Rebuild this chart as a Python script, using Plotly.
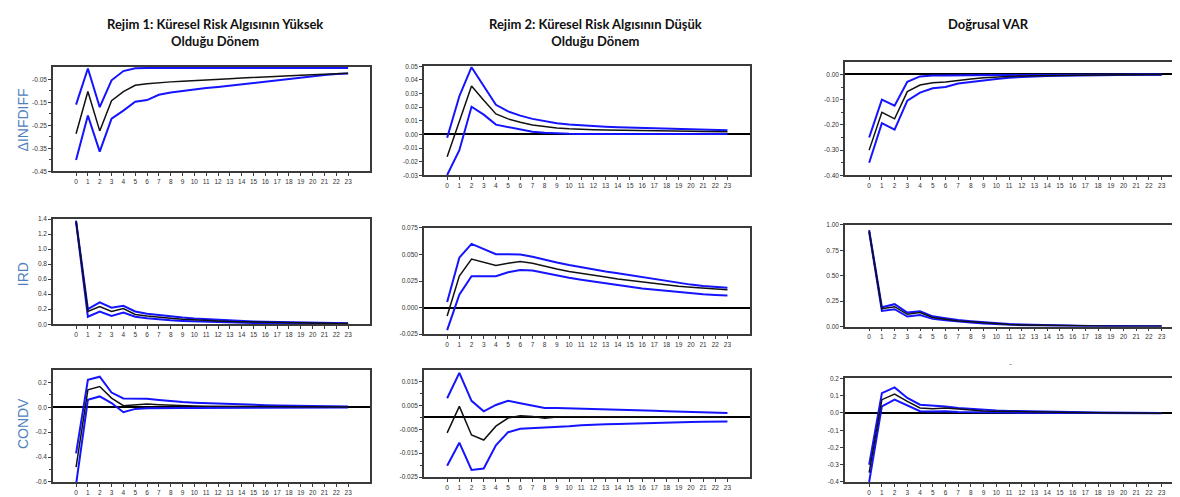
import plotly.graph_objects as go

W, H = 1180, 497

horizon = list(range(24))
horizon_labels = [str(h) for h in horizon]

col_titles = ["Rejim 1: Küresel Risk Algısının Yüksek<br>Olduğu Dönem",
              "Rejim 2: Küresel Risk Algısının Düşük<br>Olduğu Dönem",
              "Doğrusal VAR"]
row_titles = ["ΔINFDIFF", "IRD", "CONDV"]

# ---- Row 1: ΔINFDIFF ----
r1_infdiff_mid = [-0.286, -0.103, -0.274, -0.143, -0.103, -0.076, -0.069, -0.064, -0.061, -0.058, -0.056, -0.053,
                  -0.050, -0.047, -0.044, -0.041, -0.039, -0.037, -0.034, -0.032, -0.030, -0.028, -0.026, -0.024]
r1_infdiff_up = [-0.160, -0.003, -0.171, -0.054, -0.014, -0.002, -0.001, -0.001, -0.001, -0.001, -0.001, -0.001,
                 -0.001, -0.001, -0.001, -0.001, -0.001, -0.001, -0.001, -0.001, -0.001, -0.001, -0.001, -0.001]
r1_infdiff_lo = [-0.400, -0.207, -0.364, -0.221, -0.186, -0.147, -0.140, -0.117, -0.107, -0.100, -0.094, -0.088,
                 -0.083, -0.077, -0.071, -0.065, -0.058, -0.052, -0.046, -0.040, -0.035, -0.031, -0.027, -0.025]

r2_infdiff_mid = [-0.0164, 0.0101, 0.0355, 0.0250, 0.0150, 0.0114, 0.0089, 0.0070, 0.0058, 0.0048, 0.0041, 0.0036,
                  0.0034, 0.0032, 0.0030, 0.0029, 0.0027, 0.0026, 0.0025, 0.0024, 0.0023, 0.0022, 0.0021, 0.0020]
r2_infdiff_up = [-0.0024, 0.0280, 0.0493, 0.0355, 0.0217, 0.0169, 0.0138, 0.0114, 0.0097, 0.0082, 0.0072, 0.0065,
                 0.0060, 0.0056, 0.0052, 0.0049, 0.0046, 0.0043, 0.0040, 0.0038, 0.0035, 0.0033, 0.0031, 0.0030]
r2_infdiff_lo = [-0.0297, -0.0116, 0.0203, 0.0145, 0.0072, 0.0053, 0.0034, 0.0019, 0.0012, 0.0007, 0.0005, 0.0004,
                 0.0004, 0.0004, 0.0004, 0.0004, 0.0003, 0.0003, 0.0003, 0.0003, 0.0003, 0.0003, 0.0003, 0.0003]

lin_infdiff_mid = [-0.300, -0.150, -0.176, -0.068, -0.042, -0.033, -0.030, -0.023, -0.018, -0.013, -0.010, -0.008,
                   -0.006, -0.005, -0.004, -0.003, -0.003, -0.002, -0.002, -0.001, -0.001, -0.001, -0.001, 0.000]
lin_infdiff_up = [-0.250, -0.100, -0.124, -0.029, -0.008, -0.004, -0.004, -0.003, -0.003, -0.002, -0.002, -0.002,
                  -0.002, -0.001, -0.001, -0.001, -0.001, -0.001, -0.001, 0.000, 0.000, 0.000, 0.000, 0.000]
lin_infdiff_lo = [-0.350, -0.193, -0.219, -0.104, -0.072, -0.055, -0.050, -0.036, -0.030, -0.023, -0.018, -0.013,
                  -0.010, -0.008, -0.006, -0.005, -0.004, -0.003, -0.003, -0.002, -0.002, -0.001, -0.001, -0.001]

# ---- Row 2: IRD ----
r1_ird_mid = [1.37, 0.17, 0.235, 0.17, 0.21, 0.13, 0.11, 0.09, 0.08, 0.067, 0.058, 0.050,
              0.043, 0.037, 0.032, 0.028, 0.024, 0.021, 0.018, 0.016, 0.014, 0.012, 0.011, 0.010]
r1_ird_up = [1.38, 0.20, 0.29, 0.22, 0.245, 0.17, 0.14, 0.12, 0.105, 0.090, 0.078, 0.068,
             0.058, 0.050, 0.044, 0.038, 0.033, 0.029, 0.025, 0.022, 0.019, 0.017, 0.015, 0.013]
r1_ird_lo = [1.36, 0.10, 0.17, 0.11, 0.155, 0.10, 0.08, 0.062, 0.052, 0.044, 0.038, 0.032,
             0.027, 0.023, 0.020, 0.017, 0.014, 0.012, 0.010, 0.009, 0.008, 0.007, 0.006, 0.005]

r2_ird_mid = [-0.0080, 0.0296, 0.0457, 0.0427, 0.0396, 0.0418, 0.0433, 0.0418, 0.0387, 0.0363, 0.0340, 0.0320,
              0.0305, 0.0287, 0.0270, 0.0256, 0.0240, 0.0226, 0.0213, 0.0200, 0.0192, 0.0183, 0.0177, 0.0168]
r2_ird_up = [0.0052, 0.0470, 0.0600, 0.0555, 0.0503, 0.0503, 0.0500, 0.0479, 0.0448, 0.0424, 0.0400, 0.0378,
             0.0360, 0.0340, 0.0323, 0.0305, 0.0287, 0.0268, 0.0250, 0.0232, 0.0216, 0.0204, 0.0195, 0.0186]
r2_ird_lo = [-0.0213, 0.0122, 0.0296, 0.0296, 0.0296, 0.0332, 0.0354, 0.0348, 0.0323, 0.0302, 0.0280, 0.0262,
             0.0244, 0.0226, 0.0210, 0.0195, 0.0180, 0.0168, 0.0155, 0.0143, 0.0134, 0.0125, 0.0119, 0.0113]

lin_ird_mid = [0.94, 0.176, 0.195, 0.120, 0.137, 0.088, 0.072, 0.055, 0.046, 0.036, 0.026, 0.020,
               0.016, 0.013, 0.010, 0.008, 0.006, 0.005, 0.004, 0.003, 0.003, 0.002, 0.002, 0.002]
lin_ird_up = [0.95, 0.190, 0.220, 0.137, 0.150, 0.100, 0.082, 0.063, 0.052, 0.041, 0.031, 0.024,
              0.019, 0.015, 0.012, 0.009, 0.007, 0.006, 0.005, 0.004, 0.003, 0.003, 0.003, 0.002]
lin_ird_lo = [0.93, 0.153, 0.170, 0.098, 0.114, 0.075, 0.062, 0.047, 0.039, 0.030, 0.022, 0.016,
              0.012, 0.010, 0.008, 0.006, 0.005, 0.004, 0.003, 0.002, 0.002, 0.001, 0.001, 0.001]

# ---- Row 3: CONDV ----
r1_condv_mid = [-0.48, 0.140, 0.166, 0.074, 0.013, 0.021, 0.026, 0.021, 0.016, 0.013, 0.011, 0.009,
                0.008, 0.007, 0.006, 0.005, 0.004, 0.004, 0.003, 0.003, 0.002, 0.002, 0.002, 0.002]
r1_condv_up = [-0.37, 0.220, 0.245, 0.118, 0.071, 0.071, 0.068, 0.058, 0.047, 0.042, 0.037, 0.033,
               0.029, 0.026, 0.023, 0.020, 0.017, 0.015, 0.013, 0.011, 0.009, 0.008, 0.007, 0.006]
r1_condv_lo = [-0.62, 0.060, 0.087, 0.034, -0.040, -0.013, -0.008, -0.005, -0.005, -0.005, -0.005, -0.005,
               -0.005, -0.004, -0.004, -0.004, -0.003, -0.003, -0.003, -0.003, -0.003, -0.002, -0.002, -0.002]

r2_condv_mid = [-0.0065, 0.0046, -0.0074, -0.0095, -0.0037, -0.0003, 0.0007, 0.0004, -0.0004, 0.0001, 0.0002, 0.0002,
                0.0002, 0.0002, 0.0002, 0.0001, 0.0001, 0.0001, 0.0001, 0.0001, 0.0001, 0.0001, 0.0001, 0.0001]
r2_condv_up = [0.0080, 0.0186, 0.0069, 0.0025, 0.0052, 0.0069, 0.0059, 0.0048, 0.0039, 0.0039, 0.0038, 0.0036,
               0.0036, 0.0034, 0.0033, 0.0030, 0.0029, 0.0028, 0.0026, 0.0025, 0.0022, 0.0021, 0.0019, 0.0018]
r2_condv_lo = [-0.0203, -0.0106, -0.0220, -0.0214, -0.0117, -0.0062, -0.0048, -0.0046, -0.0044, -0.0040, -0.0037, -0.0033,
               -0.0030, -0.0029, -0.0028, -0.0026, -0.0025, -0.0023, -0.0022, -0.0021, -0.0019, -0.0018, -0.0017, -0.0017]

lin_condv_mid = [-0.346, 0.077, 0.110, 0.067, 0.029, 0.025, 0.029, 0.023, 0.015, 0.012, 0.010, 0.008,
                 0.007, 0.006, 0.005, 0.004, 0.003, 0.003, 0.002, 0.002, 0.001, 0.001, 0.000, -0.001]
lin_condv_up = [-0.300, 0.115, 0.148, 0.087, 0.048, 0.044, 0.038, 0.029, 0.023, 0.019, 0.015, 0.012,
                0.010, 0.008, 0.007, 0.006, 0.005, 0.004, 0.003, 0.003, 0.002, 0.002, 0.001, 0.000]
lin_condv_lo = [-0.400, 0.038, 0.077, 0.042, 0.010, 0.008, 0.010, 0.006, 0.004, 0.003, 0.002, 0.002,
                0.001, 0.001, 0.001, 0.000, 0.000, 0.000, 0.000, -0.001, -0.001, -0.001, -0.001, -0.002]

# y-axis ranges and tick labels per panel
y_specs = {
    (0, 0): ([-0.45, 0.004], [-0.45, -0.35, -0.25, -0.15, -0.05], ["-0.45", "-0.35", "-0.25", "-0.15", "-0.05"],
             [-0.40, -0.30, -0.20, -0.10]),
    (0, 1): ([-0.03, 0.05], [-0.03, -0.02, -0.01, 0.0, 0.01, 0.02, 0.03, 0.04, 0.05],
             ["-0.03", "-0.02", "-0.01", "0.00", "0.01", "0.02", "0.03", "0.04", "0.05"], []),
    (0, 2): ([-0.40, 0.048], [-0.4, -0.3, -0.2, -0.1, 0.0], ["-0.40", "-0.30", "-0.20", "-0.10", "0.00"],
             [-0.35, -0.25, -0.15, -0.05]),
    (1, 0): ([0.0, 1.4], [0.0, 0.2, 0.4, 0.6, 0.8, 1.0, 1.2, 1.4],
             ["0.0", "0.2", "0.4", "0.6", "0.8", "1.0", "1.2", "1.4"], []),
    (1, 1): ([-0.025, 0.075], [-0.025, 0.0, 0.025, 0.05, 0.075], ["-0.025", "0.000", "0.025", "0.050", "0.075"], []),
    (1, 2): ([0.0, 1.0], [0.0, 0.25, 0.5, 0.75, 1.0], ["0.00", "0.25", "0.50", "0.75", "1.00"], []),
    (2, 0): ([-0.6, 0.3], [-0.6, -0.4, -0.2, 0.0, 0.2], ["-0.6", "-0.4", "-0.2", "0.0", "0.2"],
             [-0.5, -0.3, -0.1, 0.1]),
    (2, 1): ([-0.025, 0.02], [-0.025, -0.015, -0.005, 0.005, 0.015], ["-0.025", "-0.015", "-0.005", "0.005", "0.015"],
             [-0.02, -0.01, 0.0, 0.01]),
    (2, 2): ([-0.4, 0.2], [-0.4, -0.3, -0.2, -0.1, 0.0, 0.1, 0.2], ["-0.4", "-0.3", "-0.2", "-0.1", "0.0", "0.1", "0.2"], []),
}

series = {
    (0, 0): (r1_infdiff_mid, r1_infdiff_up, r1_infdiff_lo),
    (0, 1): (r2_infdiff_mid, r2_infdiff_up, r2_infdiff_lo),
    (0, 2): (lin_infdiff_mid, lin_infdiff_up, lin_infdiff_lo),
    (1, 0): (r1_ird_mid, r1_ird_up, r1_ird_lo),
    (1, 1): (r2_ird_mid, r2_ird_up, r2_ird_lo),
    (1, 2): (lin_ird_mid, lin_ird_up, lin_ird_lo),
    (2, 0): (r1_condv_mid, r1_condv_up, r1_condv_lo),
    (2, 1): (r2_condv_mid, r2_condv_up, r2_condv_lo),
    (2, 2): (lin_condv_mid, lin_condv_up, lin_condv_lo),
}

# layout geometry (pixels)
col_px = [(45, 362), (416, 742), (837, 1174)]
col_xrange = [[-1.95, 24.85], [-1.9, 24.85], [-1.9, 24.6]]
row_px = {
    (0, 0): (55.7, 161.7), (0, 1): (55, 165.7), (0, 2): (51, 165.7),
    (1, 0): (210, 316.7), (1, 1): (219, 326.7), (1, 2): (216, 319),
    (2, 0): (363, 476.7), (2, 1): (362.7, 471.7), (2, 2): (371.7, 476.7),
}

BLUE = "#1414ff"
BLACK = "#111111"
FRAME = "#3a3a3a"
TICKFONT = dict(family="Liberation Sans", size=6.5, color="#333333")

fig = go.Figure()
layout = dict(width=W, height=H, margin=dict(l=0, r=0, t=0, b=0),
              paper_bgcolor="white", plot_bgcolor="white", showlegend=False)

idx = 0
for r in range(3):
    for c in range(3):
        idx += 1
        sfx = "" if idx == 1 else str(idx)
        xa, ya = "x" + sfx, "y" + sfx
        mid, up, lo = series[(r, c)]
        for vals, color, width in ((up, BLUE, 2), (lo, BLUE, 2), (mid, BLACK, 1.5)):
            fig.add_trace(go.Scatter(x=horizon, y=vals, mode="lines", xaxis=xa, yaxis=ya,
                                     line=dict(color=color, width=width), hoverinfo="skip"))
        x0, x1 = col_px[c]
        t0, t1 = row_px[(r, c)]
        yr, tv, tt, minor_v = y_specs[(r, c)]
        layout["xaxis" + sfx] = dict(domain=[x0 / W, x1 / W], anchor=ya, range=col_xrange[c],
                                     tickmode="array", tickvals=horizon, ticktext=horizon_labels,
                                     ticks="outside", ticklen=3, tickcolor=FRAME, tickfont=TICKFONT,
                                     showgrid=False, zeroline=False, showline=True, mirror=True,
                                     linecolor=FRAME, linewidth=1.5)
        yd = dict(domain=[1 - t1 / H, 1 - t0 / H], anchor=xa, range=yr,
                  tickmode="array", tickvals=tv, ticktext=tt,
                  ticks="outside", ticklen=3, tickcolor=FRAME, tickfont=TICKFONT,
                  showgrid=False, zeroline=True, zerolinecolor="black", zerolinewidth=2,
                  showline=True, mirror=True, linecolor=FRAME, linewidth=1.5)
        if minor_v:
            yd["minor"] = dict(tickmode="array", tickvals=minor_v, ticks="outside", ticklen=2,
                               tickcolor=FRAME, showgrid=False)
        layout["yaxis" + sfx] = yd

annotations = []
title_x = [207, 587, 980]
title_y = [21, 21, 12]
for c, t in enumerate(col_titles):
    annotations.append(dict(text="<b>" + t.replace("<br>", "</b><br><b>") + "</b>",
                            x=title_x[c] / W, y=1 - title_y[c] / H, xref="paper", yref="paper",
                            xanchor="center", yanchor="middle", showarrow=False,
                            font=dict(family="Lato", size=13, color="#111111")))
label_y = [110, 266, 418]
for r, t in enumerate(row_titles):
    annotations.append(dict(text=t, x=15 / W, y=1 - label_y[r] / H, xref="paper", yref="paper",
                            xanchor="center", yanchor="middle", showarrow=False, textangle=-90,
                            font=dict(family="Liberation Sans", size=14, color="#4f81bd")))
annotations.append(dict(text="-", x=1006 / W, y=1 - 364 / H, xref="paper", yref="paper",
                        showarrow=False, font=dict(family="Liberation Sans", size=9, color="#4f81bd")))
layout["annotations"] = annotations

fig.update_layout(**layout)
fig.write_html("out.html")
